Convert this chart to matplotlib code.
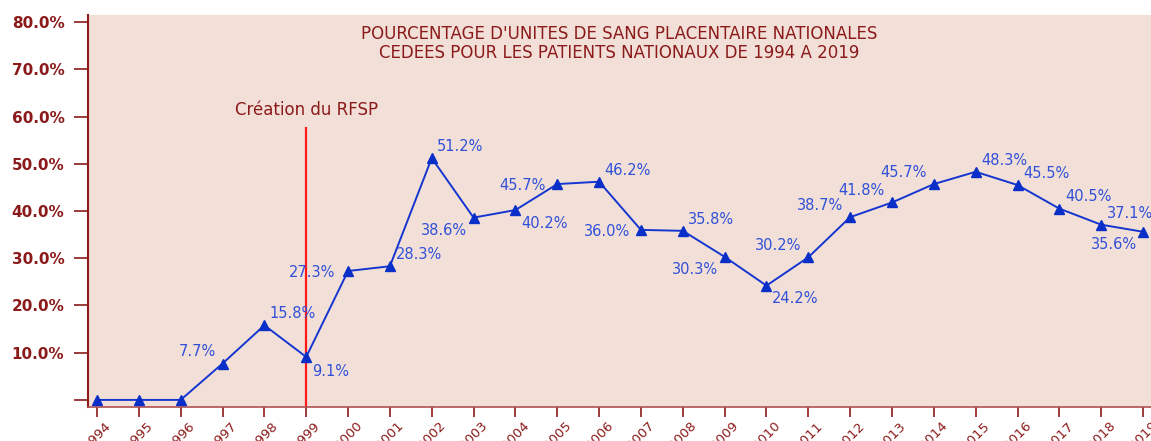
import matplotlib
matplotlib.use("Agg")
import matplotlib.pyplot as plt
from matplotlib.ticker import FuncFormatter

# data
years = list(range(1994, 2020))
pct = [0.0, 0.0, 0.0, 7.7, 15.8, 9.1, 27.3, 28.3, 51.2, 38.6, 40.2, 45.7, 46.2,
       36.0, 35.8, 30.3, 24.2, 30.2, 38.7, 41.8, 45.7, 48.3, 45.5, 40.5, 37.1, 35.6]
# label offsets in points (dx, dy) for each labelled year
label_pos = {
    1997: (-5, 3), 1998: (4, 3), 1999: (4, -5), 2000: (-9, -1),
    2001: (4, 3), 2002: (4, 3), 2003: (-5, -4), 2004: (4, -4),
    2005: (-8, -1), 2006: (4, 3), 2007: (-8, -1), 2008: (4, 3),
    2009: (-5, -4), 2010: (4, -4), 2011: (-5, 3), 2012: (-5, 3),
    2013: (-5, 3), 2014: (-5, 3), 2015: (4, 3), 2016: (4, 3),
    2017: (4, 3), 2018: (4, 3), 2019: (-4, -4),
}
rfsp_year = 1999
rfsp_top = 57.8

dark_red = "#8B1A1A"
blue = "#1535D0"
label_blue = "#3050D8"
bg = "#F2E0D8"

fig = plt.figure(figsize=(11.51, 4.41), dpi=100)
ax = fig.add_axes([88 / 1151, 34 / 441, 1 - 88 / 1151, 392 / 441])
ax.set_facecolor(bg)

ax.plot(years, pct, color=blue, lw=1.4, marker="^", ms=7.5, mfc="#0A2FC8",
        mec="#0A2FC8", zorder=3, clip_on=False)

for y, v in zip(years, pct):
    if y not in label_pos:
        continue
    dx, dy = label_pos[y]
    ax.annotate(f"{v:.1f}%", (y, v), xytext=(dx, dy), textcoords="offset points",
                ha="left" if dx > 0 else "right",
                va="bottom" if dy > 2 else ("top" if dy < -2 else "center"),
                color=label_blue, fontsize=10.5, fontfamily="DejaVu Sans")

ax.vlines(rfsp_year, -1.5, rfsp_top, color="#FF1A1A", lw=1.6, zorder=2)
ax.text(rfsp_year, rfsp_top + 1.6, "Création du RFSP", ha="center", va="bottom",
        color=dark_red, fontsize=12)

ax.text(0.5, 0.975, "POURCENTAGE D'UNITES DE SANG PLACENTAIRE NATIONALES\n"
        "CEDEES POUR LES PATIENTS NATIONAUX DE 1994 A 2019",
        transform=ax.transAxes, ha="center", va="top", color=dark_red,
        fontsize=12, linespacing=1.1)

ax.set_xlim(1993.785, 2019.19)
ax.set_ylim(-1.5, 81.5)
ax.set_xticks(years)
ax.set_xticklabels([str(y) for y in years], rotation=45, ha="center",
                   color=dark_red, fontsize=9.5)
ax.set_yticks(range(0, 81, 10))
ax.yaxis.set_major_formatter(FuncFormatter(lambda v, p: "" if v == 0 else f"{v:.1f}%"))
for lab in ax.get_yticklabels():
    lab.set_fontweight("bold")
ax.tick_params(axis="y", colors=dark_red, labelsize=11, length=10, width=1.2, pad=7)
ax.tick_params(axis="x", colors=dark_red, length=7, width=1.2, pad=2)

for s in ["top", "right"]:
    ax.spines[s].set_visible(False)
ax.spines["left"].set_color(dark_red)
ax.spines["left"].set_linewidth(1.5)
ax.spines["bottom"].set_color("#B05050")
ax.spines["bottom"].set_linewidth(1.2)

fig.savefig("out.png", dpi=100, facecolor="white")
